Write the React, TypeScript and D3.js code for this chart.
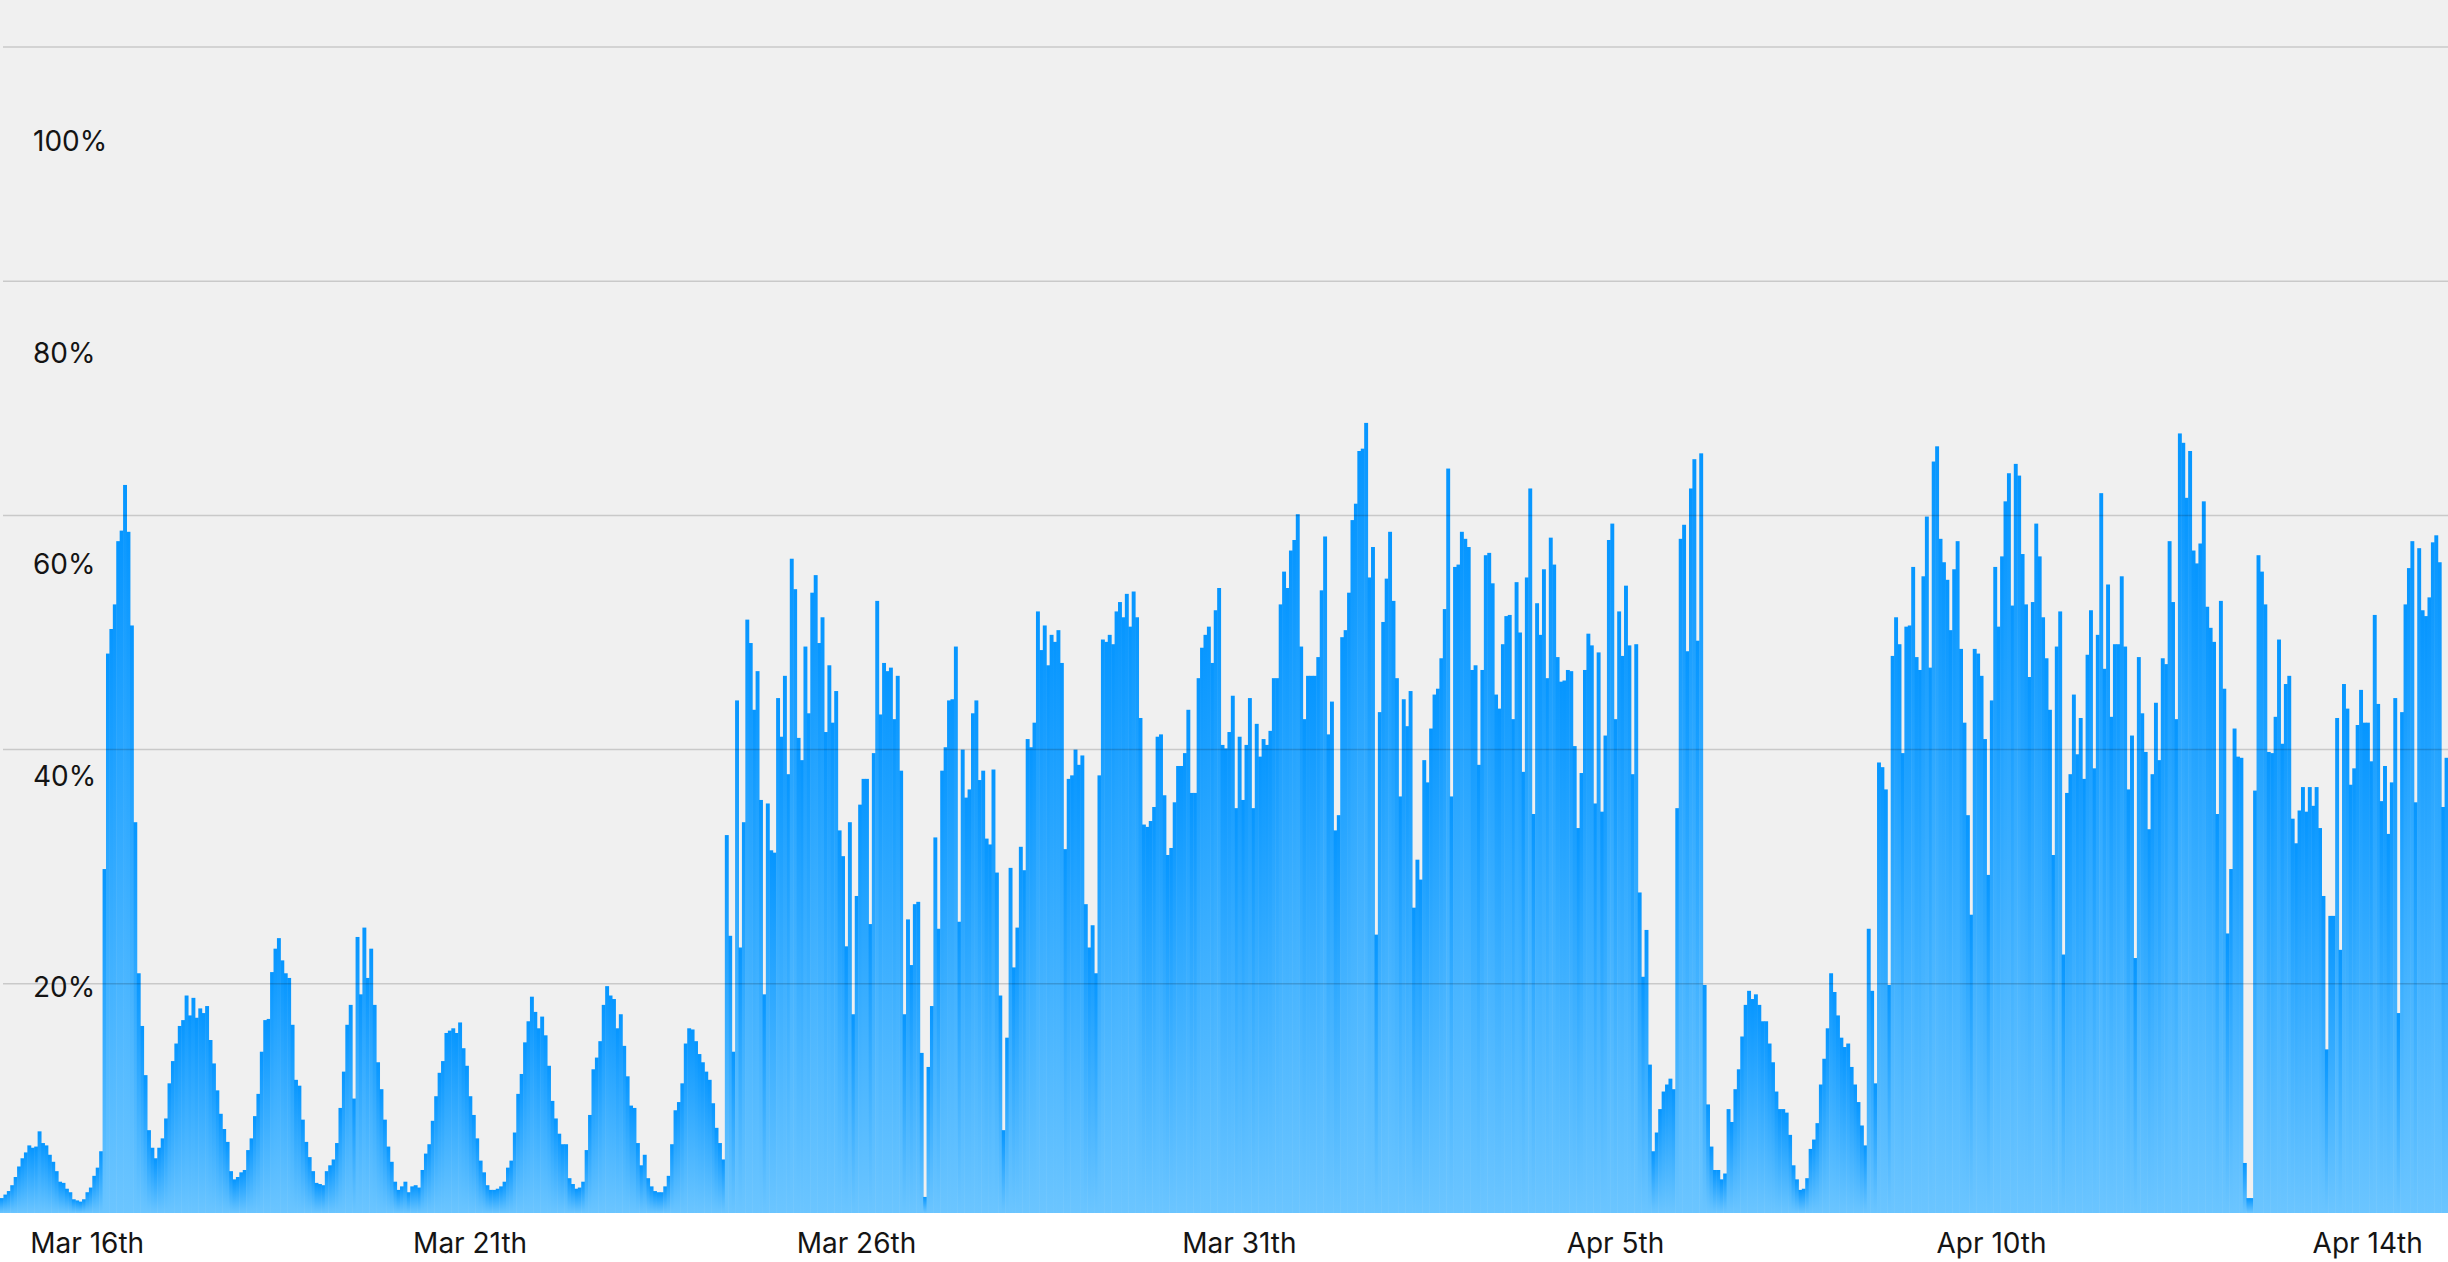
import React from "react";
import * as d3 from "d3";

const WIDTH = 2448;
const HEIGHT = 1262;
const PLOT_BOTTOM = 1213;

// hourly utilisation (%), Mar 15th -> Apr 14th
const loadMar15 = [
    1.7, 2.0, 2.3, 2.8, 3.5, 4.4, 5.1, 5.6, 6.2, 6.0,
    6.1, 7.4, 6.4, 6.2, 5.4, 4.8, 4.0, 3.1, 3.0, 2.5,
    2.2, 1.6, 1.5, 1.4, 1.6, 2.2, 2.6, 3.6, 4.3, 5.7,
    29.8, 48.2, 50.3, 52.4, 57.8, 58.7, 62.6, 58.6, 50.6, 33.8,
    20.9, 16.4, 12.2, 7.5, 6.0, 5.1, 6.0, 6.8, 8.5, 11.5,
    13.4, 14.9, 16.4, 16.9, 19.0, 17.3, 18.8, 17.1, 17.9, 17.5,
    18.1, 15.2, 13.2, 10.9, 8.9, 7.6, 6.5, 4.0, 3.3, 3.5,
    3.9, 4.1, 5.8, 6.8, 8.7, 10.6, 14.2, 16.9, 17.0, 21.0,
    23.0, 23.9, 22.0, 20.9, 20.5, 16.5, 11.8, 11.3, 8.4, 6.5,
    5.2, 4.0, 3.0, 2.9, 2.8, 4.0, 4.5, 5.0, 6.4, 9.4,
    12.5, 16.5, 18.2, 10.2, 24.0, 19.1, 24.8, 20.5, 23.0, 18.2,
    13.3, 11.0, 8.4, 6.1, 4.8, 3.1, 2.4, 2.7
];

const loadMar20 = [
    3.1, 2.2, 2.7, 2.8, 2.6, 4.1, 5.5, 6.3, 8.3, 10.4,
    12.4, 13.4, 15.8, 16.0, 16.2, 15.8, 16.7, 14.5, 13.0, 10.4,
    8.8, 6.8, 4.9, 3.9, 2.8, 2.4, 2.4, 2.5, 2.7, 3.1,
    4.3, 4.9, 7.3, 10.6, 12.3, 15.0, 16.8, 18.9, 17.6, 16.2,
    17.2, 15.6, 13.0, 10.0, 8.5, 7.2, 6.3, 6.3, 3.4, 2.9,
    2.5, 2.6, 3.1, 5.8, 8.8, 12.7, 13.7, 15.1, 18.2, 19.8,
    19.0, 18.7, 16.2, 17.4, 14.7, 12.1, 9.6, 9.4, 6.4, 4.5,
    5.4, 3.4, 2.7, 2.3, 2.2, 2.2, 2.7, 3.6, 6.3, 9.2,
    9.9, 11.5, 14.9, 16.2, 16.1, 15.1, 14.0, 13.3, 12.5, 11.8,
    9.8, 7.7, 6.4, 5.0, 32.7, 24.1, 14.2, 44.2, 23.1, 33.8,
    51.1, 49.1, 43.4, 46.7, 35.7, 19.1, 35.4, 31.4, 31.2, 44.4,
    41.1, 46.3, 37.9, 56.3, 53.7, 41.0, 39.1, 48.8, 43.1, 53.4
];

const loadMar25 = [
    54.9, 49.1, 51.3, 41.5, 47.2, 42.3, 45.0, 33.1, 30.9, 23.2,
    33.8, 17.4, 27.5, 35.3, 37.5, 37.5, 25.1, 39.7, 52.7, 43.0,
    47.4, 46.7, 47.0, 42.6, 46.3, 38.2, 17.4, 25.5, 21.6, 26.8,
    27.0, 14.1, 1.8, 12.9, 18.1, 32.5, 24.7, 38.2, 40.2, 44.2,
    44.3, 48.8, 25.3, 40.0, 35.9, 36.6, 43.1, 44.2, 37.4, 38.2,
    32.4, 31.9, 38.3, 29.5, 19.0, 7.5, 15.4, 29.9, 21.4, 24.8,
    31.7, 29.7, 40.9, 40.2, 42.3, 51.8, 48.5, 50.6, 47.2, 49.8,
    49.2, 50.2, 47.4, 31.5, 37.5, 37.8, 40.0, 38.7, 39.5, 26.8,
    23.1, 25.0, 20.9, 37.8, 49.4, 49.2, 49.8, 49.0, 51.8, 52.6,
    51.3, 53.3, 50.5, 53.5, 51.3, 42.7, 33.6, 33.4, 33.9, 35.1,
    41.1, 41.3, 36.1, 31.0, 31.6, 35.5, 38.6, 38.6, 39.7, 43.4,
    36.3, 36.3, 46.1, 48.7, 49.8, 50.5, 47.4
];

const loadMar30 = [
    51.9, 53.8, 40.4, 40.1, 41.5, 44.6, 35.0, 41.1, 35.7, 40.4,
    44.4, 35.0, 42.2, 39.4, 40.9, 40.4, 41.6, 46.1, 46.1, 52.4,
    55.2, 53.8, 57.0, 57.9, 60.1, 48.8, 42.6, 46.3, 46.3, 46.3,
    47.9, 53.6, 58.2, 41.3, 44.1, 33.1, 34.4, 49.6, 50.2, 53.4,
    59.6, 61.0, 65.5, 65.7, 67.9, 54.7, 57.3, 24.2, 43.2, 50.9,
    54.6, 58.6, 52.7, 46.1, 36.0, 44.3, 42.0, 45.0, 26.5, 30.6,
    28.9, 39.1, 37.2, 41.8, 44.7, 45.2, 47.8, 52.0, 64.0, 36.0,
    55.6, 55.8, 58.6, 58.0, 57.3, 46.8, 47.2, 38.7, 46.8, 56.6,
    56.8, 54.2, 44.7, 43.5, 49.0, 51.4, 51.5, 42.6, 54.3, 50.0,
    38.1, 54.7, 62.3, 34.5, 52.5, 49.8, 55.4, 46.1, 58.1, 55.8,
    47.9, 45.8, 45.9, 46.8, 46.7, 40.3, 33.3, 38.0, 46.8, 49.9,
    48.9, 35.4, 48.3, 34.7, 41.2, 57.9, 59.3
];

const loadApr4 = [
    42.6, 51.8, 48.0, 54.0, 48.9, 37.9, 49.0, 27.8, 20.6, 24.6,
    13.1, 5.7, 7.3, 9.3, 10.8, 11.4, 11.9, 11.0, 35.0, 58.0,
    59.2, 48.4, 62.3, 64.8, 49.3, 65.3, 19.9, 9.7, 6.1, 4.1,
    4.1, 3.3, 3.8, 9.3, 8.2, 11.0, 12.7, 15.5, 18.2, 19.4,
    18.7, 19.1, 18.2, 16.8, 16.8, 14.9, 13.3, 10.8, 9.3, 9.3,
    9.0, 7.1, 4.5, 3.3, 2.4, 2.5, 3.4, 5.9, 6.7, 8.1,
    11.4, 13.6, 16.2, 20.9, 19.3, 17.3, 15.4, 14.6, 14.9, 12.9,
    11.4, 9.9, 7.9, 6.2, 24.7, 19.4, 11.5, 38.9, 38.5, 36.6,
    19.9, 48.0, 51.3, 49.0, 39.7, 50.5, 50.6, 55.6, 47.9, 46.8,
    54.8, 59.9, 47.0, 64.6, 65.9, 58.0, 56.0, 54.5, 50.2, 55.4,
    57.8, 48.6, 42.3, 34.4, 25.9, 48.6, 48.2, 46.3, 40.9, 29.3,
    44.2, 55.6, 50.5, 56.5, 61.2, 63.6, 52.3
];

const loadApr9 = [
    64.4, 63.4, 56.7, 52.4, 46.2, 52.6, 59.3, 56.5, 51.3, 47.8,
    43.4, 31.0, 48.8, 51.8, 22.5, 36.3, 37.9, 44.7, 39.6, 42.7,
    37.5, 48.1, 51.9, 38.4, 49.8, 61.9, 46.9, 54.1, 42.8, 49.0,
    49.0, 54.8, 48.8, 36.6, 41.2, 22.2, 47.9, 43.1, 39.8, 33.2,
    37.9, 44.0, 39.1, 47.8, 47.3, 57.8, 52.6, 42.6, 67.0, 66.2,
    61.5, 65.5, 57.0, 55.9, 57.6, 61.2, 52.2, 50.4, 49.2, 34.5,
    52.7, 45.2, 24.3, 29.8, 41.8, 39.4, 39.3, 4.7, 1.7, 1.7,
    36.5, 56.6, 55.2, 52.4, 39.8, 39.7, 42.8, 49.4, 40.5, 45.6,
    46.3, 34.1, 32.0, 34.8, 36.8, 34.7, 36.8, 35.2, 36.8, 33.3,
    27.5, 14.4, 25.8, 25.8, 42.7, 22.9, 45.6, 43.5, 37.0, 38.4,
    42.1, 45.1, 42.3, 42.3, 39.0, 51.5, 43.9, 35.6, 38.6, 32.8,
    37.2, 44.4, 17.5, 43.2, 52.4, 55.5, 57.8, 35.5, 57.2, 51.9,
    51.4, 53.0, 57.7, 58.3, 56.0, 35.1, 39.3
];

const load = [...loadMar15, ...loadMar20, ...loadMar25, ...loadMar30, ...loadApr4, ...loadApr9];

const gridValues = [20, 40, 60, 80, 100];
const yTickValues = [20, 40, 60, 80, 100];
const yTickLabels = ["20%", "40%", "60%", "80%", "100%"];

// hour index under each date label
const xTickHours = [25, 137, 250, 362, 472, 582, 692];
const xTickLabels = ["Mar 16th", "Mar 21th", "Mar 26th", "Mar 31th", "Apr 5th", "Apr 10th", "Apr 14th"];

export default function App() {
    const x = d3.scaleBand<number>()
        .domain(d3.range(load.length))
        .range([0, WIDTH])
        .padding(0);

    // bars and grid share this one
    const y = d3.scaleLinear([0, 100], [1218, 47]);
    // the % labels sit on their own spacing
    const labelY = d3.scaleLinear([20, 100], [997, 151]);

    const bw = x.bandwidth();

    return <div style={{ position: "absolute", left: 0, top: 0 }}>
        <svg width={WIDTH} height={HEIGHT} style={{ display: "block" }}
            fontFamily="Inter, 'Noto Sans', sans-serif">
            <defs>
                <linearGradient id="barFill" x1={0} y1={0} x2={0} y2={1}>
                    <stop offset="0%" stopColor="#0696ff" />
                    <stop offset="100%" stopColor="#6bc5ff" />
                </linearGradient>
            </defs>

            <rect width={WIDTH} height={HEIGHT} fill="#ffffff" />
            <rect width={WIDTH} height={PLOT_BOTTOM} fill="#f0f0f0" />

            <g name="bars">
                {load.map((v, i) => {
                    const top = y(v);
                    const h = PLOT_BOTTOM - top;
                    if (h <= 0) return null;
                    // small overlap hides the anti-aliasing seams between bars
                    return <rect key={i} x={x(i)} y={top} width={bw + 0.5} height={h} fill="url(#barFill)" />;
                })}
            </g>

            <g name="grid">
                {gridValues.map((g) => (
                    <line key={g} x1={3} x2={WIDTH} y1={y(g)} y2={y(g)}
                        stroke="#000" strokeOpacity={0.16} strokeWidth={1.5} />
                ))}
            </g>

            <g name="yTicks">
                {yTickValues.map((t, i) => (
                    <text key={t} x={33} y={labelY(t)} fontSize={28} fill="#141414">
                        {yTickLabels[i]}
                    </text>
                ))}
            </g>

            <g name="xTicks">
                {xTickHours.map((h, i) => (
                    <text key={h} x={x(h)! + bw / 2} y={1253} fontSize={28} fill="#141414" textAnchor="middle">
                        {xTickLabels[i]}
                    </text>
                ))}
            </g>
        </svg>
    </div>;
}
